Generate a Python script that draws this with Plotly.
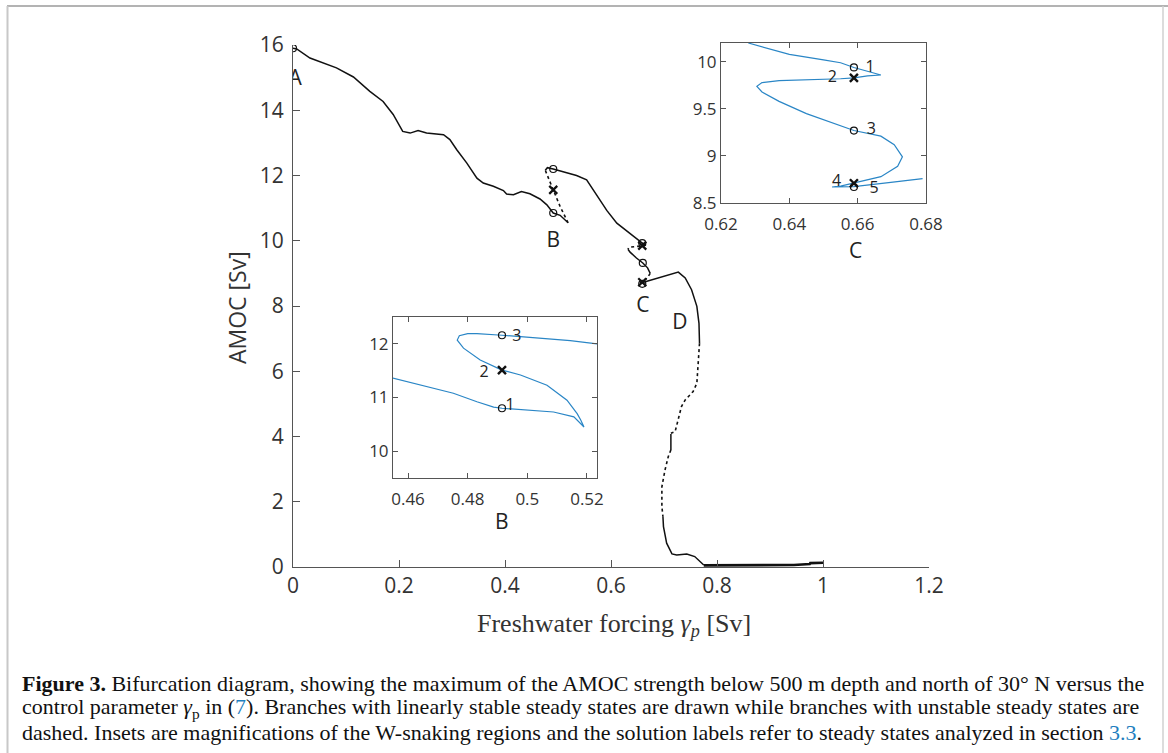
import plotly.graph_objects as go

W, H = 1168, 753

# ---------------- main diagram data (gamma_p [Sv], AMOC [Sv]) ----------------
stable1_x = [0.0, 0.007, 0.032, 0.082, 0.114, 0.145, 0.170, 0.189, 0.207, 0.221, 0.236, 0.252, 0.284,
             0.296, 0.309, 0.328, 0.347, 0.359, 0.378, 0.397, 0.403, 0.416, 0.431, 0.447, 0.466, 0.479,
             0.491, 0.504, 0.519]
stable1_y = [15.9, 15.88, 15.6, 15.3, 15.02, 14.58, 14.27, 13.87, 13.35, 13.30, 13.38, 13.30, 13.25,
             13.10, 12.79, 12.38, 11.92, 11.77, 11.67, 11.54, 11.43, 11.41, 11.51, 11.44, 11.28, 11.10,
             10.85, 10.78, 10.55]
unstable1_x = [0.519, 0.504, 0.491, 0.482, 0.477, 0.476]
unstable1_y = [10.55, 11.05, 11.56, 11.92, 12.10, 12.16]
stable2_x = [0.476, 0.480, 0.491, 0.510, 0.535, 0.554, 0.573, 0.592, 0.611, 0.630, 0.648, 0.659, 0.666]
stable2_y = [12.16, 12.24, 12.20, 12.12, 12.00, 11.87, 11.42, 10.93, 10.54, 10.29, 10.08, 9.93, 9.87]
unstable2_x = [0.666, 0.659, 0.645, 0.634, 0.632]
unstable2_y = [9.87, 9.84, 9.82, 9.80, 9.74]
stable3_x = [0.632, 0.636, 0.648, 0.660, 0.669, 0.674]
stable3_y = [9.74, 9.65, 9.47, 9.32, 9.17, 9.00]
unstable3_x = [0.674, 0.668, 0.659, 0.655]
unstable3_y = [9.00, 8.85, 8.75, 8.70]
stable4_x = [0.655, 0.659, 0.680, 0.708, 0.727, 0.740, 0.752, 0.762, 0.766, 0.767]
stable4_y = [8.70, 8.72, 8.82, 8.96, 9.04, 8.86, 8.50, 7.99, 7.47, 6.86]
unstable4_x = [0.767, 0.764, 0.762, 0.755, 0.746, 0.740, 0.733, 0.727, 0.721, 0.713]
unstable4_y = [6.86, 6.25, 5.63, 5.38, 5.22, 5.12, 4.92, 4.51, 4.15, 4.10]
stable5_x = [0.713, 0.713]
stable5_y = [4.08, 3.59]
unstable5_x = [0.713, 0.708, 0.702, 0.696, 0.696, 0.698]
unstable5_y = [3.59, 3.38, 2.98, 2.46, 1.85, 1.54]
stable6_x = [0.698, 0.699, 0.705, 0.715, 0.724, 0.743, 0.758, 0.768, 0.775]
stable6_y = [1.54, 1.24, 0.73, 0.40, 0.37, 0.40, 0.32, 0.16, 0.06]
stable7_x = [0.775, 0.945, 0.975, 0.976, 1.0]
stable7_y = [0.05, 0.06, 0.09, 0.12, 0.13]

main_circle_x = [0.0, 0.491, 0.491, 0.659, 0.660, 0.659]
main_circle_y = [15.9, 10.85, 12.20, 9.93, 9.32, 8.68]
main_cross_x = [0.491, 0.659, 0.659]
main_cross_y = [11.56, 9.85, 8.73]

main_labels = ["A", "B", "C", "D"]
main_label_x = [0.004, 0.491, 0.660, 0.730]
main_label_y = [14.94, 9.98, 7.98, 7.47]

main_xticks = [0, 0.2, 0.4, 0.6, 0.8, 1.0, 1.2]
main_xticktext = ["0", "0.2", "0.4", "0.6", "0.8", "1", "1.2"]
main_yticks = [0, 2, 4, 6, 8, 10, 12, 14, 16]

# ---------------- inset B ----------------
insetB_x = [0.4549, 0.464, 0.4752, 0.4831, 0.4887, 0.4915, 0.4977, 0.5088, 0.5156, 0.519,
            0.5179, 0.5167, 0.5133, 0.5066, 0.4977, 0.4915, 0.4842, 0.4786, 0.4765, 0.4772,
            0.4800, 0.4831, 0.4915, 0.5033, 0.5144, 0.5234]
insetB_y = [11.36, 11.23, 11.08, 10.92, 10.82, 10.80, 10.78, 10.73, 10.64, 10.45,
            10.58, 10.70, 10.95, 11.23, 11.42, 11.51, 11.70, 11.92, 12.07, 12.15,
            12.19, 12.19, 12.16, 12.11, 12.06, 12.00]
insetB_circle_x = [0.4915, 0.4915]
insetB_circle_y = [10.80, 12.16]
insetB_cross_x = [0.4915]
insetB_cross_y = [11.51]
insetB_labels = ["1", "2", "3"]
insetB_label_x = [0.4942, 0.4855, 0.4965]
insetB_label_y = [10.84, 11.46, 12.12]
insetB_xticks = [0.46, 0.48, 0.50, 0.52]
insetB_xticktext = ["0.46", "0.48", "0.5", "0.52"]
insetB_yticks = [10, 11, 12]

# ---------------- inset C ----------------
insetC_x = [0.628, 0.640, 0.650, 0.655, 0.6589, 0.6668, 0.6629, 0.6589, 0.655, 0.645, 0.637,
            0.632, 0.6305, 0.632, 0.637, 0.645, 0.652, 0.655, 0.6589, 0.6668, 0.6707, 0.6731,
            0.6717, 0.6668, 0.6589, 0.655, 0.6525, 0.656, 0.6589, 0.6697, 0.679]
insetC_y = [10.20, 10.08, 10.02, 9.99, 9.94, 9.86, 9.85, 9.83, 9.82, 9.81, 9.80,
            9.78, 9.74, 9.68, 9.58, 9.45, 9.36, 9.32, 9.27, 9.21, 9.12, 8.99,
            8.89, 8.78, 8.71, 8.68, 8.67, 8.67, 8.675, 8.72, 8.76]
insetC_circle_x = [0.6589, 0.6589, 0.6589]
insetC_circle_y = [9.94, 9.27, 8.67]
insetC_cross_x = [0.6589, 0.6589]
insetC_cross_y = [9.83, 8.71]
insetC_labels = ["1", "2", "3", "4", "5"]
insetC_label_x = [0.6636, 0.6526, 0.6640, 0.6538, 0.6648]
insetC_label_y = [9.93, 9.83, 9.28, 8.72, 8.65]
insetC_xticks = [0.62, 0.64, 0.66, 0.68]
insetC_yticks = [8.5, 9.0, 9.5, 10.0]
insetC_yticktext = ["8.5", "9", "9.5", "10"]

caption_lines = [
    "<b>Figure 3.</b> Bifurcation diagram, showing the maximum of the AMOC strength below 500 m depth and north of 30° N versus the",
    "control parameter <i>γ</i><sub>p</sub> in (<span style='color:#1f7fc0'>7</span>). Branches with linearly stable steady states are drawn while branches with unstable steady states are",
    "dashed. Insets are magnifications of the W-snaking regions and the solution labels refer to steady states analyzed in section <span style='color:#1f7fc0'>3.3</span>.",
]

# ---------------- figure ----------------
fig = go.Figure()
BLACK = "#111111"
BLUE = "#2a86c6"

segments = [
    (stable1_x, stable1_y, "solid", 1.5),
    (unstable1_x, unstable1_y, "dot", 1.6),
    (stable2_x, stable2_y, "solid", 1.5),
    (unstable2_x, unstable2_y, "dot", 1.6),
    (stable3_x, stable3_y, "solid", 1.5),
    (unstable3_x, unstable3_y, "dot", 1.6),
    (stable4_x, stable4_y, "solid", 1.5),
    (unstable4_x, unstable4_y, "dot", 1.6),
    (stable5_x, stable5_y, "solid", 1.5),
    (unstable5_x, unstable5_y, "dot", 1.6),
    (stable6_x, stable6_y, "solid", 1.5),
    (stable7_x, stable7_y, "solid", 2.6),
]
for sx, sy, dash, w in segments:
    fig.add_trace(go.Scatter(x=sx, y=sy, mode="lines", xaxis="x", yaxis="y",
                             line=dict(color=BLACK, width=w, dash=dash), hoverinfo="skip"))

fig.add_trace(go.Scatter(x=main_circle_x, y=main_circle_y, mode="markers", xaxis="x", yaxis="y",
                         marker=dict(symbol="circle-open", size=7, color=BLACK, line=dict(width=1.2))))
fig.add_trace(go.Scatter(x=main_cross_x, y=main_cross_y, mode="markers", xaxis="x", yaxis="y",
                         marker=dict(symbol="x-thin-open", size=8, color=BLACK, line=dict(width=2.2))))

# inset B
fig.add_trace(go.Scatter(x=insetB_x, y=insetB_y, mode="lines", xaxis="x2", yaxis="y2",
                         line=dict(color=BLUE, width=1.2)))
fig.add_trace(go.Scatter(x=insetB_circle_x, y=insetB_circle_y, mode="markers", xaxis="x2", yaxis="y2",
                         marker=dict(symbol="circle-open", size=7, color=BLACK, line=dict(width=1.2))))
fig.add_trace(go.Scatter(x=insetB_cross_x, y=insetB_cross_y, mode="markers", xaxis="x2", yaxis="y2",
                         marker=dict(symbol="x-thin-open", size=8, color=BLACK, line=dict(width=2.4))))
fig.add_trace(go.Scatter(x=insetB_label_x, y=insetB_label_y, mode="text", xaxis="x2", yaxis="y2",
                         text=insetB_labels, textfont=dict(family="Open Sans", size=16, color="#222")))

# inset C
fig.add_trace(go.Scatter(x=insetC_x, y=insetC_y, mode="lines", xaxis="x3", yaxis="y3",
                         line=dict(color=BLUE, width=1.2)))
fig.add_trace(go.Scatter(x=insetC_circle_x, y=insetC_circle_y, mode="markers", xaxis="x3", yaxis="y3",
                         marker=dict(symbol="circle-open", size=7, color=BLACK, line=dict(width=1.2))))
fig.add_trace(go.Scatter(x=insetC_cross_x, y=insetC_cross_y, mode="markers", xaxis="x3", yaxis="y3",
                         marker=dict(symbol="x-thin-open", size=8, color=BLACK, line=dict(width=2.4))))
fig.add_trace(go.Scatter(x=insetC_label_x, y=insetC_label_y, mode="text", xaxis="x3", yaxis="y3",
                         text=insetC_labels, textfont=dict(family="Open Sans", size=16, color="#222")))

# main labels A-D
fig.add_trace(go.Scatter(x=main_label_x, y=main_label_y, mode="text", xaxis="x", yaxis="y",
                         text=main_labels, textfont=dict(family="Open Sans", size=21, color="#222")))


def px(v):
    return v / W


def py(v):
    return 1 - v / H


AX = "#555555"
TICKF = dict(family="Open Sans", size=21, color="#333")
INSF = dict(family="Open Sans", size=17, color="#333")

fig.update_layout(
    width=W, height=H, margin=dict(l=0, r=0, t=0, b=0, pad=0, autoexpand=False),
    paper_bgcolor="white", plot_bgcolor="rgba(0,0,0,0)", showlegend=False,
    xaxis=dict(domain=[px(293), px(929)], range=[0, 1.2], tickvals=main_xticks, ticktext=main_xticktext,
               ticks="inside", ticklen=7, tickcolor=AX, showline=True, linecolor=AX, linewidth=1,
               showgrid=False, zeroline=False, anchor="y", tickfont=TICKF, automargin=False),
    yaxis=dict(domain=[py(567), py(45)], range=[0, 16], tickvals=main_yticks,
               ticks="inside", ticklen=7, tickcolor=AX, showline=True, linecolor=AX, linewidth=1,
               showgrid=False, zeroline=False, anchor="x", tickfont=TICKF, ticklabelstandoff=4,
               automargin=False),
    xaxis2=dict(domain=[px(393), px(597)], range=[0.45496, 0.52336], tickvals=insetB_xticks,
                ticktext=insetB_xticktext, ticks="inside", ticklen=5, tickcolor=AX, showline=True,
                linecolor=AX, mirror="allticks", showgrid=False, zeroline=False, anchor="y2", tickfont=INSF,
                automargin=False, ticklabelstandoff=6),
    yaxis2=dict(domain=[py(478), py(317)], range=[9.5, 12.5], tickvals=insetB_yticks,
                ticks="inside", ticklen=5, tickcolor=AX, showline=True, linecolor=AX, mirror="allticks",
                showgrid=False, zeroline=False, anchor="x2", tickfont=INSF, automargin=False),
    xaxis3=dict(domain=[px(721), px(926)], range=[0.62, 0.68], tickvals=insetC_xticks,
                ticks="inside", ticklen=5, tickcolor=AX, showline=True, linecolor=AX, mirror="allticks",
                showgrid=False, zeroline=False, anchor="y3", tickfont=INSF, automargin=False,
                ticklabelstandoff=6),
    yaxis3=dict(domain=[py(203), py(43)], range=[8.5, 10.2], tickvals=insetC_yticks, ticktext=insetC_yticktext,
                ticks="inside", ticklen=5, tickcolor=AX, showline=True, linecolor=AX, mirror="allticks",
                showgrid=False, zeroline=False, anchor="x3", tickfont=INSF, automargin=False),
)

annotations = [
    dict(x=px(614), y=py(625), text="Freshwater forcing <i>γ</i><sub><i>p</i></sub> [Sv]",
         font=dict(family="Liberation Serif", size=26, color="#333")),
    dict(x=px(237), y=py(308), textangle=-90,
         text="AMOC [Sv]", font=dict(family="Open Sans", size=23, color="#333")),
    dict(x=px(502), y=py(521), text="B", font=dict(family="Open Sans", size=21, color="#222")),
    dict(x=px(855), y=py(250), text="C", font=dict(family="Open Sans", size=21, color="#222")),
]
for a in annotations:
    a.update(xref="paper", yref="paper", showarrow=False, xanchor="center", yanchor="middle")
for i, line in enumerate(caption_lines):
    annotations.append(dict(x=px(20), y=py(683 + 24.5 * i), xref="paper", yref="paper", showarrow=False,
                            xanchor="left", yanchor="middle", text=line,
                            font=dict(family="Liberation Serif", size=22, color="#111")))
fig.update_layout(annotations=annotations)

shapes = [
    dict(type="line", xref="paper", yref="paper", x0=px(7), x1=1, y0=py(6), y1=py(6),
         line=dict(color="#9a9a9a", width=1.5)),
    dict(type="line", xref="paper", yref="paper", x0=px(7.5), x1=px(7.5), y0=py(6), y1=0,
         line=dict(color="#c8c8c8", width=2)),
    dict(type="line", xref="paper", yref="paper", x0=px(1163), x1=px(1163), y0=py(6), y1=0,
         line=dict(color="#d0d0d0", width=1.5)),
]
fig.update_layout(shapes=shapes)

fig.write_html("out.html", config={"displayModeBar": False},
               post_script="document.body.style.margin='0px';document.body.style.overflow='hidden';")
